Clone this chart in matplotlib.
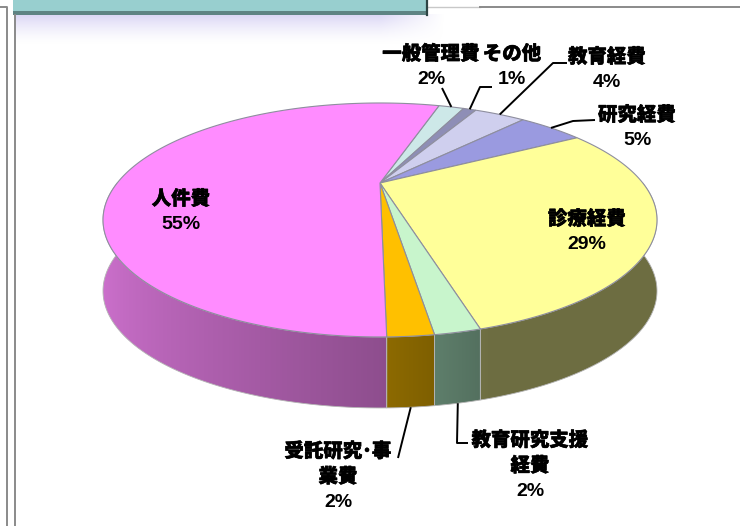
import numpy as np
import matplotlib
matplotlib.use('Agg')
import matplotlib.pyplot as plt
import matplotlib.patheffects as pe
from matplotlib.patches import Polygon, Rectangle
from matplotlib.colors import to_rgb

plt.rcParams['font.family'] = ['Liberation Sans', 'Noto Sans CJK JP', 'DejaVu Sans']

# ---------------- data ----------------
categories = ['一般管理費', 'その他', '教育経費', '研究経費', '診療経費',
              '教育研究支援経費', '受託研究･事業費', '人件費']
values = [2, 1, 4, 5, 29, 2, 2, 55]
line_breaks = {'教育研究支援経費': 6, '受託研究･事業費': 6}
top_colors = ['#CDE8E8', '#8E8EB6', '#CFCFEE', '#9A9AE0', '#FFFF99',
              '#C8F5CC', '#FFC000', '#FF8CFF']

# ---------------- layout ----------------
W, H = 740, 526
CX, CY = 380, 183          # projected pie centre (pixels)
SX, SY = 262.8, 105.3      # projected scales
K = 0.316                  # perspective strength
DEPTH = 71                 # side wall height (pixels)
START = 17.0               # first slice starts here (deg clockwise from 12 o'clock)

label_pos = {
    '一般管理費': (431, 67), 'その他': (512, 67), '教育経費': (607, 70),
    '研究経費': (637, 128), '診療経費': (587, 232), '教育研究支援経費': (530, 466),
    '受託研究･事業費': (338, 477), '人件費': (181, 212),
}
leader_pts = {
    '一般管理費': [(442, 88)],
    'その他': [(480, 87), (492, 87)],
    '教育経費': [(553, 63), (567, 63)],
    '研究経費': [(573, 121), (595, 120)],
    '教育研究支援経費': [(457, 443), (468, 443)],
    '受託研究･事業費': [(398, 458)],
}
LINE_GAP = 25.5

fig = plt.figure(figsize=(W / 100, H / 100), dpi=100)
ax = fig.add_axes([0, 0, 1, 1])
ax.set_xlim(0, W)
ax.set_ylim(H, 0)
ax.axis('off')


def proj(theta_deg, drop=0.0):
    t = np.radians(theta_deg)
    x = np.sin(t)
    y = np.cos(t)
    w = 1 + K * y
    return CX + SX * x / w, CY - SY * y / w + drop


def shade(theta_deg):
    s = np.sin(np.radians(theta_deg))
    return np.where(s < 0, 0.56 - 0.26 * s, np.maximum(0.43, 0.56 - 0.45 * s))


# ---------------- frame / decoration ----------------
gy = np.linspace(0, 1, 40)[:, None]
gx = np.linspace(0, 1, 200)[None, :]
alpha = (1 - gy) ** 1.5 * np.clip((1 - gx) / 0.15, 0, 1)
glow = np.zeros((40, 200, 4))
glow[..., 0] = 0.84
glow[..., 1] = 0.82
glow[..., 2] = 0.96
glow[..., 3] = alpha * 0.9
ax.imshow(glow, extent=(15, 445, 45, 14), aspect='auto', zorder=0, interpolation='bilinear')

ax.add_patch(Rectangle((13, -5), 414, 17, facecolor='#98CFCF', edgecolor='none', zorder=1))
ax.add_patch(Rectangle((13, 11), 414, 4, facecolor='#5E8484', edgecolor='none', zorder=1))
ax.plot([427, 427], [0, 15], color='#2E4545', lw=1.6, zorder=2)
ax.plot([0, 7, 7], [7, 7, H], color='#8A8A8A', lw=1.4, zorder=1)
ax.plot([15, 15], [15, H], color='#8A8A8A', lw=1.4, zorder=1)
ax.plot([428, 480], [7, 7], color='#C8C8C8', lw=1.0, zorder=1)
ax.plot([480, W], [7, 7], color='#8A8A8A', lw=1.4, zorder=1)

# ---------------- 3D pie ----------------
total = float(sum(values))
bounds = START + 360.0 * np.concatenate([[0], np.cumsum(values)]) / total

tab_t = np.linspace(108.5, 251.5, 3000)
tab_x = proj(tab_t)[0]
x_left, x_right = CX - SX * 1.06, CX + SX * 1.06
xcols = np.linspace(x_left, x_right, 700)
theta_cols = np.interp(xcols, tab_x[::-1], tab_t[::-1])
shade_cols = shade(theta_cols)

for i, cat in enumerate(categories):
    a0, a1 = bounds[i], bounds[i + 1]
    base = np.array(to_rgb(top_colors[i]))
    if cat == '教育研究支援経費':
        base = np.array(to_rgb('#BEFFD8'))
    for lo, hi in [(90, 270), (450, 630)]:
        s0, s1 = max(a0, lo), min(a1, hi)
        if s1 <= s0:
            continue
        ts = np.linspace(s0, s1, max(2, int((s1 - s0) / 0.5) + 1))
        xt, yt = proj(ts)
        outline = list(zip(xt, yt)) + list(zip(xt[::-1], (yt + DEPTH)[::-1]))
        clip = Polygon(outline, closed=True, facecolor='none', edgecolor='none', zorder=3)
        ax.add_patch(clip)
        img = np.clip(base[None, None, :] * shade_cols[None, :, None], 0, 1)
        img = np.repeat(img, 2, axis=0)
        im = ax.imshow(img, extent=(x_left, x_right, CY + 2 * SY + DEPTH, CY - SY),
                       aspect='auto', zorder=3, interpolation='bilinear')
        im.set_clip_path(clip)
        ax.add_patch(Polygon(outline, closed=True, fill=False, edgecolor='#B4B4B4',
                             lw=0.6, zorder=4))

for i, cat in enumerate(categories):
    a0, a1 = bounds[i], bounds[i + 1]
    ts = np.linspace(a0, a1, max(3, int((a1 - a0) / 0.5) + 1))
    xt, yt = proj(ts)
    pts = [(CX, CY)] + list(zip(xt, yt))
    ax.add_patch(Polygon(pts, closed=True, facecolor=top_colors[i],
                         edgecolor='#8E8E9E', lw=0.8, zorder=5))

ax.set_xlim(0, W)
ax.set_ylim(H, 0)

# ---------------- labels & leaders ----------------
heavy = [pe.withStroke(linewidth=0.4, foreground='black')]
for i, cat in enumerate(categories):
    mid = 0.5 * (bounds[i] + bounds[i + 1])
    if cat in leader_pts:
        m = mid % 360
        front = 90 < m < 270
        ax0, ay0 = proj(mid, DEPTH if front else 0.0)
        pts = [(ax0, ay0)] + leader_pts[cat]
        ax.plot([p[0] for p in pts], [p[1] for p in pts], color='black', lw=1.4,
                zorder=6, solid_capstyle='butt')
    b = line_breaks.get(cat)
    lines = [cat[:b], cat[b:]] if b else [cat]
    lines.append(f'{values[i]}%')
    xc, yc = label_pos[cat]
    n = len(lines)
    for j, ln in enumerate(lines):
        is_pct = ln.endswith('%')
        ax.text(xc, yc + (j - (n - 1) / 2) * LINE_GAP, ln, ha='center', va='center',
                fontsize=14, fontweight='heavy', color='black', zorder=7,
                path_effects=None if is_pct else heavy)

fig.savefig('out.png', dpi=100, facecolor='white')
